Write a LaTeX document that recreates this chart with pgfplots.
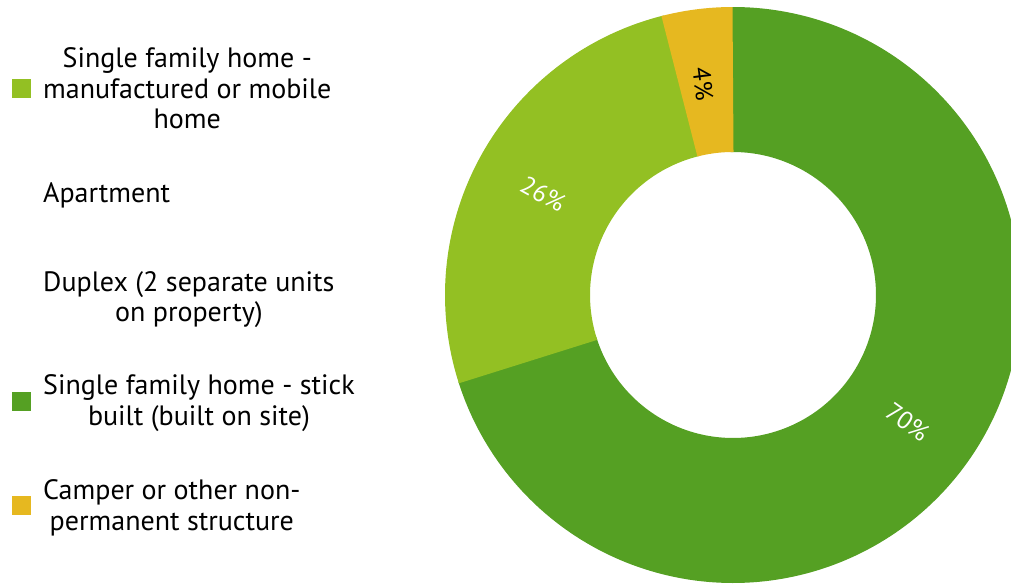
\documentclass[border=0pt]{standalone}
\usepackage{fontspec}
\setmainfont{PT Sans}
\usepackage{pgfplots}
\pgfplotsset{compat=1.18}
\definecolor{dgreen}{HTML}{55A023}
\definecolor{lgreen}{HTML}{93C023}
\definecolor{gold}{HTML}{E6B820}

% shares (percent), clockwise from 12 o'clock
\def\pStick{70}
\def\pMobile{26}
\def\pCamper{4}
\pgfmathsetmacro{\aA}{90-3.6*\pStick}
\pgfmathsetmacro{\aB}{\aA-3.6*\pMobile}
\pgfmathsetmacro{\aC}{\aB-3.6*\pCamper}
% small overlaps hide the seams between slices
\pgfmathsetmacro{\aAo}{\aA-0.6}
\pgfmathsetmacro{\aBo}{\aB-0.6}

% #1 = vertical nudge, #2 = lines
\newcommand{\legtext}[2]{\raisebox{#1}{\begin{tabular}{@{}c@{}}#2\end{tabular}}}

\begin{document}
\begin{tikzpicture}
\begin{axis}[
  hide axis, scale only axis,
  width=505.5pt, height=292pt,
  xmin=-733, xmax=278, ymin=-289, ymax=295,
  clip=true,
  legend style={at={(axis cs:-721,259)}, anchor=north west,
    draw=none, fill=none, inner sep=0pt, row sep=0pt, column sep=6pt,
    nodes={inner sep=0pt, anchor=west, minimum height=52.1pt},
    font=\fontsize{14}{15.25}\selectfont},
]
% ring: mid radius 215.5, thickness 145 units (= 72.5pt)
\addplot[forget plot, draw=dgreen, line width=72.5pt, data cs=polar,
  domain=\aAo:90.6, samples=200] ({x},{215.5});
\addplot[forget plot, draw=lgreen, line width=72.5pt, data cs=polar,
  domain=\aBo:\aA, samples=100] ({x},{215.5});
\addplot[forget plot, draw=gold, line width=72.5pt, data cs=polar,
  domain=\aC:\aB, samples=30] ({x},{215.5});

\node[rotate=-36, text=white, font=\fontsize{12.5}{14}\selectfont] at (axis cs:174.3,-126.7) {70\%};
\node[rotate=-28.8, text=white, font=\fontsize{12.5}{14}\selectfont] at (axis cs:-190,101) {26\%};
\node[rotate=-82.8, text=black, font=\fontsize{12.5}{14}\selectfont] at (axis cs:-30,211) {4\%};

\addlegendimage{legend image code/.code={\fill[lgreen] (0pt,-4.5pt) rectangle (9pt,4.5pt);}}
\addlegendentry{\legtext{14pt}{Single family home -\\manufactured or mobile\\home}}
\addlegendimage{legend image code/.code={}}
\addlegendentry{\legtext{-1pt}{Apartment}}
\addlegendimage{legend image code/.code={}}
\addlegendentry{\legtext{6.5pt}{Duplex (2 separate units\\on property)}}
\addlegendimage{legend image code/.code={\fill[dgreen] (0pt,-4.5pt) rectangle (9pt,4.5pt);}}
\addlegendentry{\legtext{7.5pt}{Single family home - stick\\built (built on site)}}
\addlegendimage{legend image code/.code={\fill[gold] (0pt,-4.5pt) rectangle (9pt,4.5pt);}}
\addlegendentry{\legtext{6.5pt}{Camper or other non-\\permanent structure}}
\end{axis}
\pgfresetboundingbox
\path (current axis.south west) rectangle (current axis.north east);
\end{tikzpicture}
\end{document}
